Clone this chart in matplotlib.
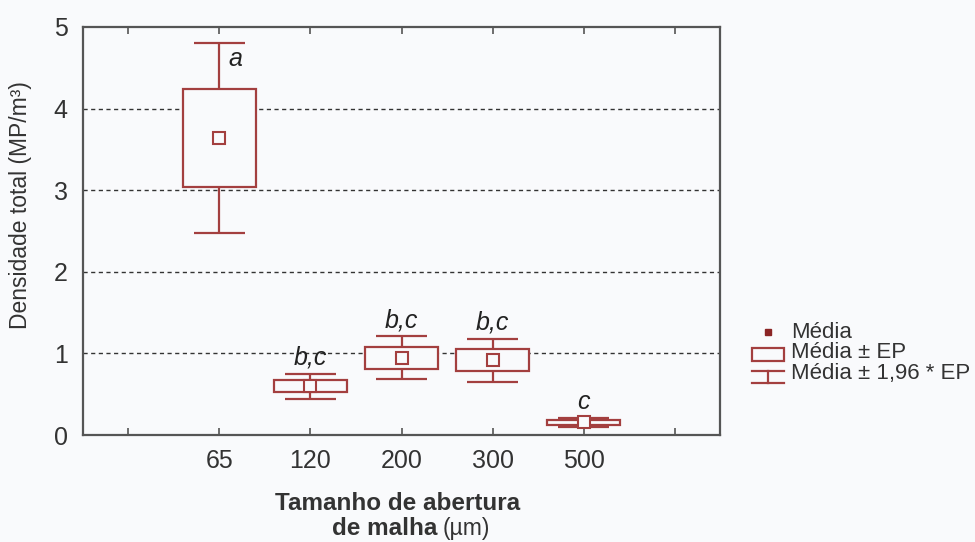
import matplotlib.pyplot as plt
from matplotlib.patches import Rectangle
from matplotlib.lines import Line2D

# mesh sizes (um) and total density values
categories = ["65", "120", "200", "300", "500"]
means = [3.64, 0.60, 0.945, 0.915, 0.155]
se = [0.595, 0.078, 0.135, 0.135, 0.028]
letters = ["a", "b,c", "b,c", "b,c", "c"]

red = "#a33f3f"
bg = "#f9fafc"

plt.rcParams["font.family"] = ["Liberation Sans", "DejaVu Sans"]

fig = plt.figure(figsize=(9.75, 5.42), dpi=100, facecolor=bg)
ax = fig.add_axes([0.0851, 0.1974, 0.6534, 0.7528], facecolor=bg)

pos = list(range(1, len(categories) + 1))
box_w = 0.8
cap_w = 0.57

for x, m, s, lab in zip(pos, means, se, letters):
    lo, hi = m - 1.96 * s, m + 1.96 * s
    ax.vlines(x, lo, hi, color=red, lw=1.6, zorder=2)
    ax.hlines([lo, hi], x - cap_w / 2, x + cap_w / 2, color=red, lw=1.6, zorder=2)
    ax.add_patch(Rectangle((x - box_w / 2, m - s), box_w, 2 * s,
                           facecolor=bg, edgecolor=red, lw=1.6, zorder=3))
    ax.plot(x, m, marker="s", ms=8, mfc=bg, mec=red, mew=1.5, zorder=4)
    if lab == "a":
        ax.text(x + 0.1, hi - 0.2, lab, fontsize=18, style="italic",
                color="#222222", ha="left", va="center")
    else:
        ax.text(x, hi + 0.05, lab, fontsize=18, style="italic",
                color="#222222", ha="center", va="bottom")

ax.set_xlim(-0.5, 6.5)
ax.set_ylim(0, 5)
ax.set_xticks(range(0, 7))
ax.set_xticklabels([""] + categories + [""])
ax.set_yticks(range(0, 6))
for yv in range(1, 5):
    ax.axhline(yv, color="#333333", lw=1.0, ls=(0, (3, 2.5)), zorder=1)

ax.tick_params(axis="x", direction="in", top=True, length=5, width=1.2,
               color="#555555", labelsize=18, pad=10, labelcolor="#333333")
ax.tick_params(axis="y", length=0, labelsize=18, pad=11, labelcolor="#333333")
for sp in ax.spines.values():
    sp.set_color("#555555")
    sp.set_linewidth(1.6)

fig.text(0.021, 0.622, "Densidade total (MP/m³)", rotation=90, fontsize=16.5,
         color="#333333", ha="center", va="center")

fig.text(0.408, 0.071, "Tamanho de abertura", fontsize=17.5, fontstretch="condensed",
         weight="bold", color="#333333", ha="center", va="center")
fig.text(0.449, 0.025, "de malha", fontsize=17.5, fontstretch="condensed",
         weight="bold", color="#333333", ha="right", va="center")
fig.text(0.454, 0.025, "(µm)", fontsize=16.5, fontstretch="condensed",
         color="#333333", ha="left", va="center")

# legend drawn in its own axes (pixel-like coordinates)
lg = fig.add_axes([0, 0, 1, 1], facecolor="none")
lg.set_xlim(0, 975)
lg.set_ylim(542, 0)
lg.axis("off")
lg.plot(768, 332, marker="s", ms=5, color="#8b2525")
lg.add_patch(Rectangle((752, 348), 32, 13, facecolor="none", edgecolor=red, lw=1.6))
lg.add_line(Line2D([752, 784], [371, 371], color=red, lw=1.6))
lg.add_line(Line2D([768, 768], [371, 383], color=red, lw=1.6))
lg.add_line(Line2D([752, 784], [383, 383], color=red, lw=1.6))
for ty, t in zip([332, 353, 374], ["Média", "Média ± EP", "Média ± 1,96 * EP"]):
    lg.text(791, ty, t, fontsize=16, color="#333333", ha="left", va="center")

fig.savefig("out.png", dpi=100, facecolor=bg)
